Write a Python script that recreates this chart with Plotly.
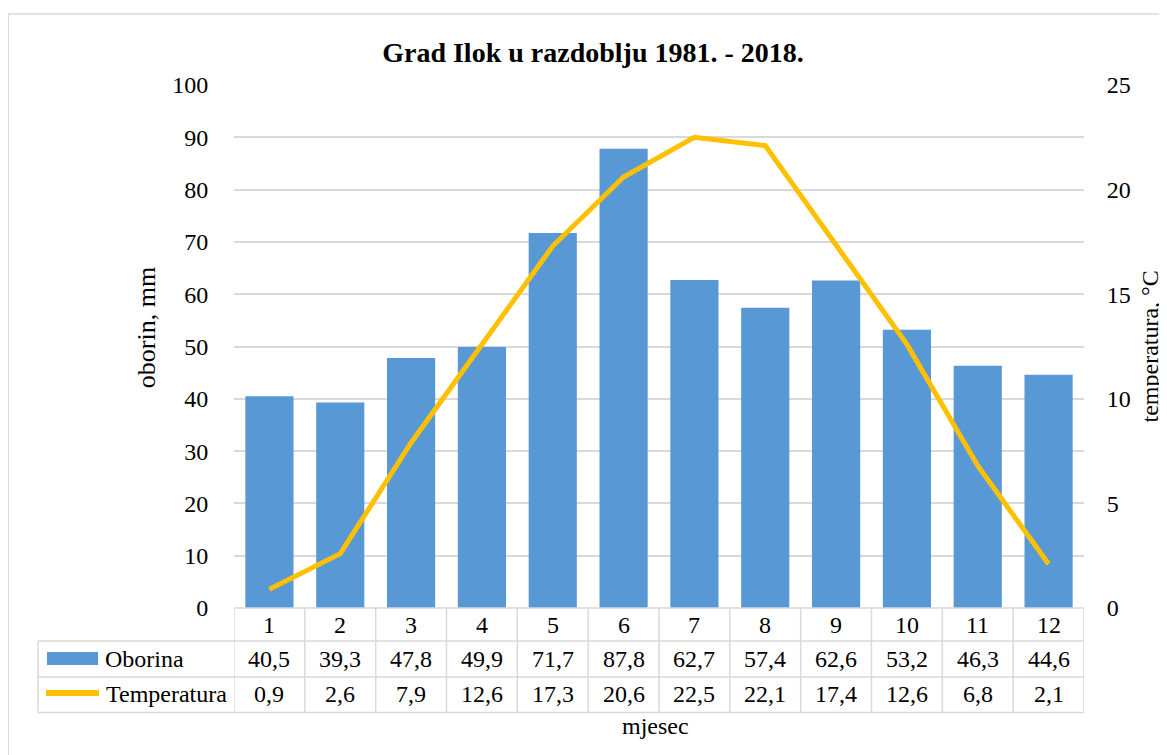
import plotly.graph_objects as go

months = [1, 2, 3, 4, 5, 6, 7, 8, 9, 10, 11, 12]
month_labels = ["1", "2", "3", "4", "5", "6", "7", "8", "9", "10", "11", "12"]
oborina = [40.5, 39.3, 47.8, 49.9, 71.7, 87.8, 62.7, 57.4, 62.6, 53.2, 46.3, 44.6]
temperatura = [0.9, 2.6, 7.9, 12.6, 17.3, 20.6, 22.5, 22.1, 17.4, 12.6, 6.8, 2.1]
left_ticks = [0, 10, 20, 30, 40, 50, 60, 70, 80, 90, 100]
right_ticks = [0, 5, 10, 15, 20, 25]

FONT = "Liberation Serif, Times New Roman, serif"
GRID = "#d9d9d9"
BAR = "#5898d5"
LINE = "#ffc000"
FS = 24

fig = go.Figure()
fig.add_trace(go.Bar(x=months, y=oborina, name="Oborina", marker=dict(color=BAR, line=dict(width=0)),
                     width=0.68, yaxis="y"))
fig.add_trace(go.Scatter(x=months, y=temperatura, name="Temperatura", mode="lines",
                         line=dict(color=LINE, width=5), yaxis="y2"))

def fmt(v):
    return f"{v:.1f}".replace(".", ",")

tf = dict(size=FS, color="black", family=FONT)
ann = []
row_y = [-0.0325, -0.0975, -0.1645]
C = dict(xanchor="center", yanchor="middle", showarrow=False)
for m, lab, o, t in zip(months, month_labels, oborina, temperatura):
    ann.append(dict(x=m, y=row_y[0], xref="x", yref="paper", text=lab, font=tf, **C))
    ann.append(dict(x=m, y=row_y[1], xref="x", yref="paper", text=fmt(o), font=tf, **C))
    ann.append(dict(x=m, y=row_y[2], xref="x", yref="paper", text=fmt(t), font=tf, **C))
ann.append(dict(x=(103 - 234) / 850, y=row_y[1], xref="paper", yref="paper", text="Oborina", showarrow=False,
                xanchor="left", yanchor="middle", font=tf))
ann.append(dict(x=(104 - 234) / 850, y=row_y[2], xref="paper", yref="paper", text="Temperatura", showarrow=False,
                xanchor="left", yanchor="middle", font=tf))
ann.append(dict(x=(655 - 234) / 850, y=-0.2256, xref="paper", yref="paper", text="mjesec", font=tf, **C))
ann.append(dict(x=(146 - 234) / 850, y=0.535, xref="paper", yref="paper", text="oborin, mm",
                textangle=-90, font=dict(size=26, color="black", family=FONT), **C))
ann.append(dict(x=(1149 - 234) / 850, y=0.5, xref="paper", yref="paper", text="temperatura, °C",
                textangle=-90, font=dict(size=24, color="black", family=FONT), **C))

shapes = []
lw = 1.5
shapes.append(dict(type="line", xref="x", yref="paper", x0=0.5, x1=12.5, y0=0, y1=0, line=dict(color=GRID, width=lw)))
for yy in [-0.063, -0.132, -0.2]:
    shapes.append(dict(type="line", xref="paper", yref="paper", x0=-0.2306, x1=1, y0=yy, y1=yy,
                       line=dict(color=GRID, width=lw)))
for b in [m - 0.5 for m in months] + [months[-1] + 0.5]:
    shapes.append(dict(type="line", xref="x", yref="paper", x0=b, x1=b, y0=0, y1=-0.2,
                       line=dict(color=GRID, width=lw)))
shapes.append(dict(type="line", xref="paper", yref="paper", x0=-0.2306, x1=-0.2306, y0=-0.063, y1=-0.2,
                   line=dict(color=GRID, width=lw)))
# legend keys inside table
shapes.append(dict(type="rect", xref="paper", yref="paper", x0=(47 - 234) / 850, x1=(98 - 234) / 850,
                   y0=(608 - 652) / 523, y1=(608 - 665) / 523, fillcolor=BAR, line=dict(width=0)))
shapes.append(dict(type="line", xref="paper", yref="paper", x0=(46 - 234) / 850, x1=(99 - 234) / 850,
                   y0=(608 - 693) / 523, y1=(608 - 693) / 523, line=dict(color=LINE, width=6)))
# outer frame
shapes.append(dict(type="rect", xref="paper", yref="paper", x0=-0.2655, x1=1.0918, y0=-0.32, y1=1.1358,
                   line=dict(color=GRID, width=1.5), fillcolor="rgba(0,0,0,0)", layer="below"))

W, H = 1159, 747
fig.update_layout(
    width=W, height=H,
    margin=dict(l=226, r=83, t=77, b=147),
    paper_bgcolor="white", plot_bgcolor="white",
    showlegend=False,
    title=dict(text="<b>Grad Ilok u razdoblju 1981. - 2018.</b>", x=585 / W, xref="container", xanchor="center",
               y=1 - 44 / H, yref="container", yanchor="middle", font=dict(size=28, color="black", family=FONT)),
    xaxis=dict(range=[0.5, 12.5], showticklabels=False, showgrid=False, zeroline=False, showline=False, ticks=""),
    yaxis=dict(range=[0, 100], tickvals=left_ticks, showgrid=True, gridcolor=GRID, gridwidth=1.5,
               zeroline=False, showline=False, ticks="outside", ticklen=20, tickcolor="rgba(0,0,0,0)",
               tickfont=tf),
    yaxis2=dict(range=[0, 25], tickvals=right_ticks, overlaying="y", side="right", showgrid=False,
                zeroline=False, showline=False, ticks="outside", ticklen=17, tickcolor="rgba(0,0,0,0)",
                tickfont=tf),
    annotations=ann, shapes=shapes,
)
fig.write_html("out.html")
